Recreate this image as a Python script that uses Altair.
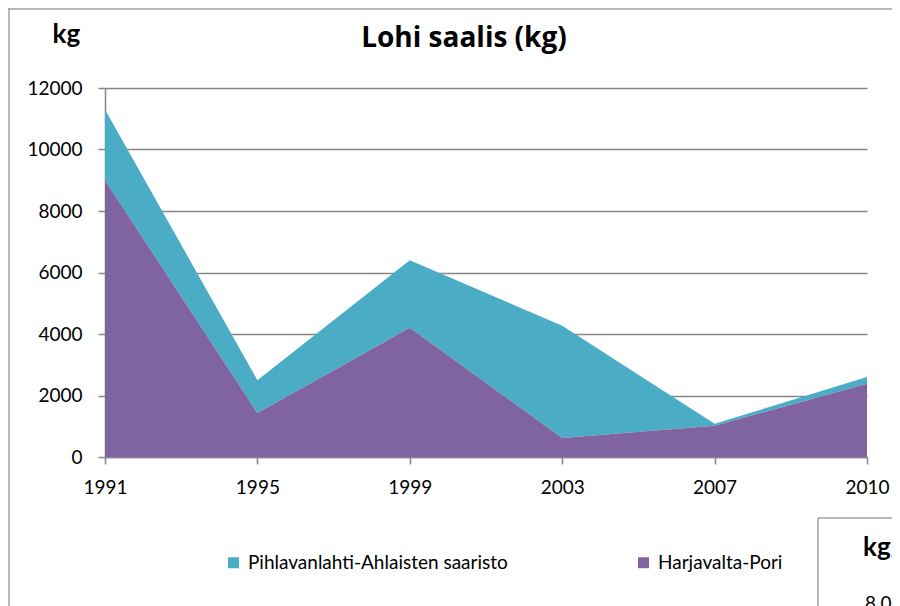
import altair as alt
import pandas as pd

years = ["1991", "1995", "1999", "2003", "2007", "2010"]
harjavalta = [9000, 1430, 4200, 620, 1020, 2380]
pihlavanlahti = [2300, 1070, 2200, 3650, 60, 220]
series_names = ["Pihlavanlahti-Ahlaisten saaristo", "Harjavalta-Pori"]
series_colors = ["#4BACC6", "#8064A2"]
y_ticks = [0, 2000, 4000, 6000, 8000, 10000, 12000]

rows = []
for y, v in zip(years, pihlavanlahti):
    rows.append({"year": y, "series": series_names[0], "value": v, "ord": 1})
for y, v in zip(years, harjavalta):
    rows.append({"year": y, "series": series_names[1], "value": v, "ord": 0})
df = pd.DataFrame(rows)

FONT = "Lato"
GRAY = "#868686"

area = alt.Chart(df).mark_area(interpolate="linear").encode(
    x=alt.X("year:O", scale=alt.Scale(type="point", padding=0), sort=years,
            axis=alt.Axis(title=None, labelAngle=0, labelFontSize=19, labelFont=FONT,
                          labelColor="black", tickColor=GRAY, tickSize=7, tickWidth=1.5,
                          domainColor=GRAY, domainWidth=1.5, labelPadding=14, grid=False)),
    y=alt.Y("value:Q", stack="zero", scale=alt.Scale(domain=[0, 12000], nice=False),
            axis=alt.Axis(title="kg", titleAngle=0, titleX=-53, titleY=-46, titleAlign="left",
                          titleBaseline="alphabetic", titleFont=FONT, titleFontSize=26,
                          titleFontWeight="bold", titleColor="black",
                          values=y_ticks, format="d", labelFontSize=19, labelFont=FONT,
                          labelColor="black", tickColor=GRAY, tickSize=7, tickWidth=1.5,
                          domainColor=GRAY, domainWidth=1.5, labelPadding=16,
                          grid=True, gridColor=GRAY, gridWidth=1.5)),
    color=alt.Color("series:N", scale=alt.Scale(domain=series_names, range=series_colors),
                    legend=alt.Legend(title=None, orient="none", direction="horizontal",
                                      legendX=119, legendY=465, symbolType="square",
                                      symbolSize=121, symbolStrokeWidth=0, labelFont=FONT,
                                      labelFontSize=19, labelColor="black", labelOffset=5,
                                      labelLimit=0, columnPadding=126, padding=0)),
    order=alt.Order("ord:Q"),
)

one = pd.DataFrame({"a": [0]})
border_style = dict(color="#A0A0A0", strokeWidth=1.5)
outer_top = alt.Chart(one).mark_rule(**border_style).encode(
    x=alt.value(-97), x2=alt.value(800), y=alt.value(-79))
outer_left = alt.Chart(one).mark_rule(**border_style).encode(
    x=alt.value(-96), y=alt.value(-80), y2=alt.value(518))
box_top = alt.Chart(one).mark_rule(**border_style).encode(
    x=alt.value(713), x2=alt.value(800), y=alt.value(430))
box_left = alt.Chart(one).mark_rule(**border_style).encode(
    x=alt.value(713), y=alt.value(430), y2=alt.value(518))
box_title = alt.Chart(one).mark_text(text="kg/", font=FONT, fontSize=26, fontWeight="bold",
                                     align="left", baseline="alphabetic", color="black").encode(
    x=alt.value(758), y=alt.value(468))
box_value = alt.Chart(one).mark_text(text="8.0", font=FONT, fontSize=19,
                                     align="left", baseline="alphabetic", color="black").encode(
    x=alt.value(760), y=alt.value(522))

chart = alt.layer(area, outer_top, outer_left, box_top, box_left, box_title, box_value).properties(
    width=762, height=369,
    autosize=alt.AutoSizeParams(type="none"),
    padding={"left": 97, "top": 80, "right": 25, "bottom": 149},
    title=alt.TitleParams("Lohi saalis (kg)", font="Open Sans", fontSize=28, fontWeight="bold",
                          color="black", anchor="middle", baseline="alphabetic",
                          dx=-22, dy=68, offset=0),
).configure_view(stroke=None)

chart.save("out.html", embed_options={"renderer": "svg", "actions": False})
